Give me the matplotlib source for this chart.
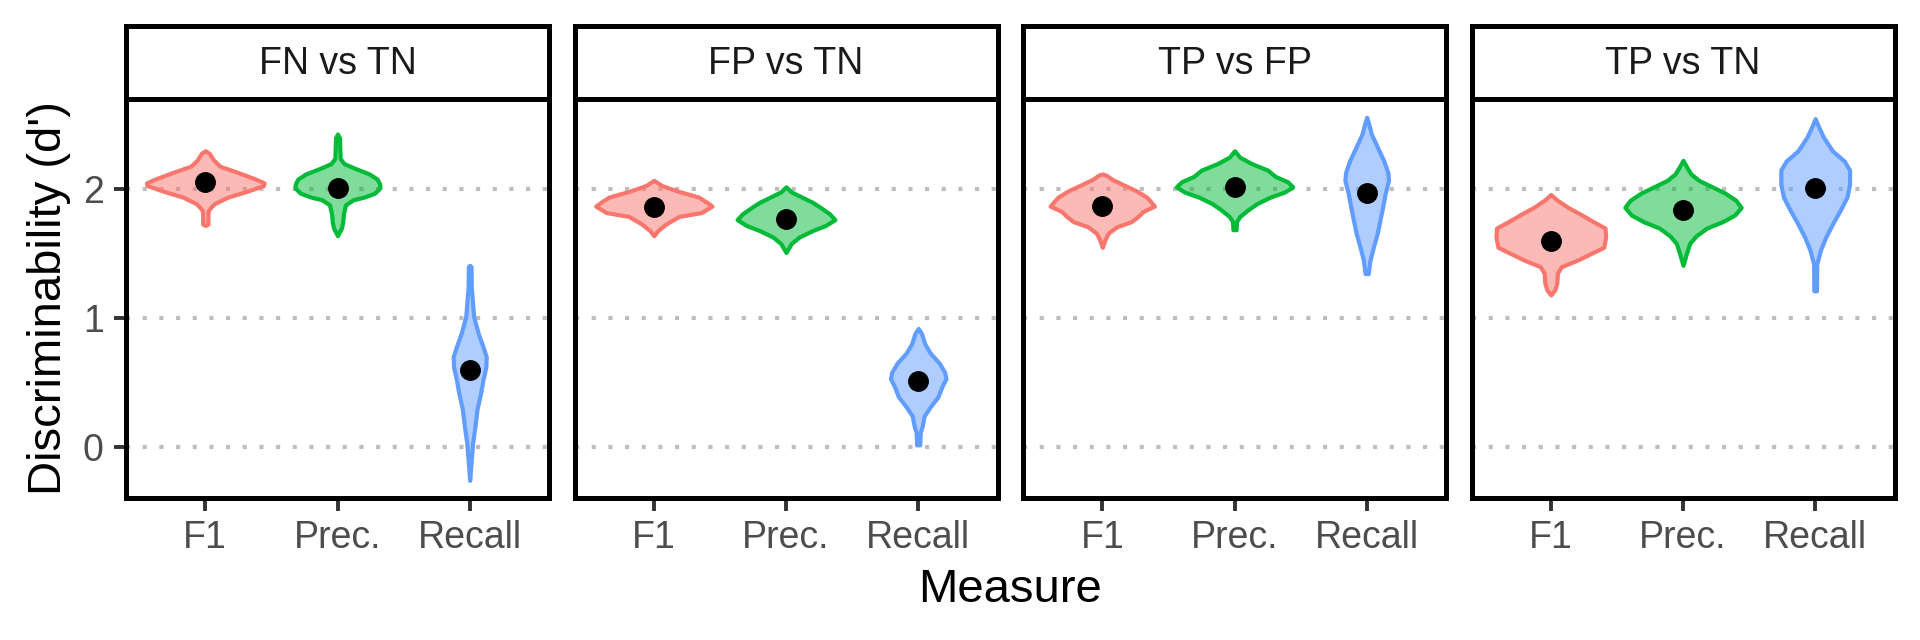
import matplotlib
matplotlib.use("Agg")
import matplotlib.pyplot as plt
from matplotlib.colors import to_rgba

plt.rcParams['font.family'] = ['Liberation Sans', 'DejaVu Sans']

panels = ["FN vs TN", "FP vs TN", "TP vs FP", "TP vs TN"]
measures = ["F1", "Prec.", "Recall"]
colors = ["#F8766D", "#00BA38", "#619CFF"]

# mean d' per panel (F1, Prec., Recall)
means_fn_tn = [2.06, 2.01, 0.60]
means_fp_tn = [1.86, 1.77, 0.51]
means_tp_fp = [1.87, 2.02, 1.97]
means_tp_tn = [1.60, 1.84, 2.01]

# violin outlines: (d', half width), bottom to top
fn_tn_f1 = [(1.72, 0), (1.73, 0.02), (1.83, 0.02), (1.86, 0.04), (1.89, 0.07),
            (1.94, 0.17), (1.99, 0.33), (2.03, 0.44), (2.05, 0.445), (2.08, 0.38),
            (2.13, 0.25), (2.18, 0.11), (2.23, 0.06), (2.28, 0.03), (2.30, 0)]
fn_tn_prec = [(1.64, 0), (1.70, 0.03), (1.75, 0.04), (1.81, 0.045), (1.88, 0.06),
              (1.92, 0.12), (1.94, 0.2), (1.97, 0.28), (2.01, 0.32), (2.04, 0.32),
              (2.08, 0.30), (2.12, 0.24), (2.16, 0.14), (2.20, 0.05), (2.24, 0.02),
              (2.40, 0.015), (2.43, 0)]
fn_tn_recall = [(-0.26, 0), (-0.10, 0.012), (0.03, 0.022), (0.16, 0.04), (0.29, 0.055),
                (0.42, 0.083), (0.52, 0.10), (0.62, 0.122), (0.70, 0.125), (0.78, 0.10),
                (0.88, 0.065), (1.01, 0.03), (1.14, 0.02), (1.24, 0.012), (1.40, 0.01),
                (1.41, 0)]

fp_tn_f1 = [(1.64, 0), (1.68, 0.03), (1.73, 0.09), (1.79, 0.19), (1.82, 0.36),
            (1.87, 0.44), (1.90, 0.40), (1.94, 0.34), (1.99, 0.17), (2.03, 0.06),
            (2.07, 0)]
fp_tn_prec = [(1.51, 0), (1.58, 0.04), (1.63, 0.1), (1.68, 0.2), (1.72, 0.30),
              (1.765, 0.37), (1.81, 0.33), (1.86, 0.26), (1.90, 0.2), (1.94, 0.12),
              (1.98, 0.04), (2.02, 0)]
fp_tn_recall = [(0.016, 0), (0.016, 0.012), (0.11, 0.015), (0.16, 0.03), (0.24, 0.045),
                (0.31, 0.09), (0.39, 0.15), (0.47, 0.18), (0.53, 0.21), (0.58, 0.2),
                (0.65, 0.16), (0.73, 0.09), (0.80, 0.05), (0.88, 0.025), (0.92, 0)]

tp_fp_f1 = [(1.55, 0), (1.61, 0.02), (1.66, 0.045), (1.71, 0.11), (1.75, 0.22),
            (1.79, 0.27), (1.83, 0.31), (1.87, 0.395), (1.90, 0.37), (1.94, 0.335),
            (1.99, 0.255), (2.04, 0.15), (2.08, 0.07), (2.11, 0.03), (2.12, 0)]
tp_fp_prec = [(1.687, 0), (1.687, 0.012), (1.75, 0.015), (1.79, 0.04), (1.84, 0.1),
              (1.89, 0.17), (1.94, 0.27), (1.98, 0.38), (2.02, 0.44), (2.06, 0.40),
              (2.10, 0.31), (2.15, 0.25), (2.20, 0.13), (2.25, 0.04), (2.30, 0)]
tp_fp_recall = [(1.346, 0), (1.346, 0.012), (1.45, 0.025), (1.55, 0.05), (1.66, 0.08),
                (1.76, 0.10), (1.86, 0.12), (1.97, 0.14), (2.07, 0.165), (2.13, 0.16),
                (2.22, 0.13), (2.33, 0.08), (2.43, 0.035), (2.51, 0.015), (2.56, 0)]

tp_tn_f1 = [(1.18, 0), (1.22, 0.03), (1.27, 0.045), (1.35, 0.05), (1.40, 0.08),
            (1.45, 0.2), (1.50, 0.3), (1.55, 0.40), (1.63, 0.415), (1.70, 0.41),
            (1.75, 0.32), (1.81, 0.22), (1.86, 0.13), (1.915, 0.05), (1.96, 0)]
tp_tn_prec = [(1.41, 0), (1.50, 0.025), (1.58, 0.05), (1.64, 0.1), (1.70, 0.18),
              (1.75, 0.3), (1.80, 0.39), (1.86, 0.44), (1.915, 0.4), (1.97, 0.32),
              (2.02, 0.22), (2.07, 0.12), (2.12, 0.06), (2.17, 0.03), (2.225, 0)]
tp_tn_recall = [(1.212, 0), (1.212, 0.01), (1.42, 0.012), (1.53, 0.04), (1.63, 0.08),
                (1.73, 0.13), (1.84, 0.19), (1.94, 0.24), (2.04, 0.26), (2.15, 0.26),
                (2.22, 0.22), (2.30, 0.13), (2.41, 0.06), (2.50, 0.02), (2.55, 0)]

all_profiles = [
    [fn_tn_f1, fn_tn_prec, fn_tn_recall],
    [fp_tn_f1, fp_tn_prec, fp_tn_recall],
    [tp_fp_f1, tp_fp_prec, tp_fp_recall],
    [tp_tn_f1, tp_tn_prec, tp_tn_recall],
]
all_means = [means_fn_tn, means_fp_tn, means_tp_fp, means_tp_tn]

W, H = 1920, 640
fig = plt.figure(figsize=(W / 100, H / 100), dpi=100)

panel_w = 423
gap = 25.5
left0 = 126
p_top, p_bot = 99, 498
strip_top = 26

grid_kw = dict(color="#BEBEBE", linewidth=3.0, linestyle=(0, (1, 3)))


def make_stats(profile, mean):
    ys = [p[0] for p in profile]
    ws = [p[1] for p in profile]
    return {"coords": ys, "vals": ws, "mean": mean, "median": mean,
            "min": min(ys), "max": max(ys), "quantiles": []}


for i, title in enumerate(panels):
    x0 = left0 + i * (panel_w + gap)
    ax = fig.add_axes([x0 / W, (H - p_bot) / H, panel_w / W, (p_bot - p_top) / H])
    positions = [1, 2, 3]
    stats = [make_stats(prof, m) for prof, m in zip(all_profiles[i], all_means[i])]
    widths = [2 * max(p[1] for p in prof) for prof in all_profiles[i]]
    parts = ax.violin(stats, positions=positions, widths=widths,
                      showmeans=False, showextrema=False, showmedians=False)
    for body, c in zip(parts["bodies"], colors):
        body.set_alpha(None)
        body.set_facecolor(to_rgba(c, 0.5))
        body.set_edgecolor(c)
        body.set_linewidth(3.0)
        body.set_joinstyle("round")
        body.set_zorder(2)
    ax.plot(positions, all_means[i], "o", color="black", markersize=14, zorder=3)

    for yv in [0, 1, 2]:
        ax.axhline(yv, zorder=1, **grid_kw)

    ax.set_xlim(0.4, 3.6)
    ax.set_ylim(-0.397, 2.702)
    ax.set_xticks(positions)
    ax.set_xticklabels(measures)
    ax.tick_params(axis="x", length=9, width=2.8, color="#333333",
                   labelsize=27, labelcolor="#4D4D4D", pad=7)
    if i == 0:
        ax.set_yticks([0, 1, 2])
        ax.tick_params(axis="y", length=9, width=2.8, color="#333333",
                       labelsize=27, labelcolor="#4D4D4D", pad=7)
    else:
        ax.set_yticks([])
    for s in ax.spines.values():
        s.set_linewidth(3.6)
        s.set_color("black")

    sax = fig.add_axes([x0 / W, (H - p_top) / H, panel_w / W, (p_top - strip_top) / H])
    sax.set_xticks([])
    sax.set_yticks([])
    for s in sax.spines.values():
        s.set_linewidth(3.6)
        s.set_color("black")
    sax.text(0.5, 0.48, title, ha="center", va="center", fontsize=27,
             color="#1A1A1A", transform=sax.transAxes)

fig.text(49 / W, (H - (p_top + p_bot) / 2) / H, "Discriminability (d')",
         rotation=90, ha="center", va="center", fontsize=34, color="black")
fig.text(1010 / W, (H - 590) / H, "Measure", ha="center", va="center",
         fontsize=34, color="black")

fig.savefig("out.png", dpi=100)
